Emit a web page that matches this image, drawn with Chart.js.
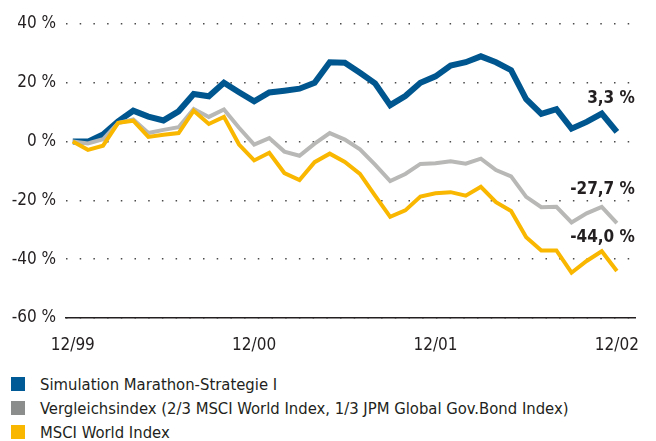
<!DOCTYPE html>
<html>
<head>
<meta charset="utf-8">
<script src="https://cdn.jsdelivr.net/npm/chart.js@4.4.1/dist/chart.umd.min.js"></script>
<style>
  html, body { margin: 0; padding: 0; background: #fff; }
  #wrap { position: relative; width: 656px; height: 441px; overflow: hidden; }
  #chart { position: absolute; left: 0; top: 0; }
  #legend { position: absolute; left: 11px; top: 375px; font-family: "DejaVu Sans Condensed", "Liberation Sans Narrow", sans-serif; font-size: 16.5px; color: #231f20; }
  .item { height: 24px; line-height: 20px; white-space: nowrap; }
  .box { display: inline-block; width: 14px; height: 14px; margin-right: 15px; vertical-align: -1px; }
</style>
</head>
<body>
<div id="wrap">
  <canvas id="chart" width="656" height="365"></canvas>
  <div id="legend"></div>
</div>
<script>
// Monatswerte 12/99 bis 12/02 (Wertentwicklung in %)
const months = ['12/99','01/00','02/00','03/00','04/00','05/00','06/00','07/00','08/00','09/00','10/00','11/00',
  '12/00','01/01','02/01','03/01','04/01','05/01','06/01','07/01','08/01','09/01','10/01','11/01',
  '12/01','01/02','02/02','03/02','04/02','05/02','06/02','07/02','08/02','09/02','10/02','11/02','12/02'];

const xTickIndex = [0, 12, 24, 36];
const xTickLabels = ['12/99', '12/00', '12/01', '12/02'];

const seriesNames = [
  'Simulation Marathon-Strategie I',
  'Vergleichsindex (2/3 MSCI World Index, 1/3 JPM Global Gov.Bond Index)',
  'MSCI World Index'
];

const marathon = [0, 0, 2.4, 6.9, 10.5, 8.5, 7.2, 10.3, 16.2, 15.4, 20, 16.8, 13.7, 16.7, 17.3, 18, 20,
  27, 26.8, 23.4, 19.8, 12.4, 15.5, 20, 22.2, 25.9, 27, 29, 27, 24.3, 14.4, 9.4, 11, 4.4, 6.7, 9.5, 3.3];

const vergleich = [0, -0.6, 0.8, 6.3, 7.5, 2.9, 4, 4.9, 11.1, 8.4, 10.9, 4.7, -1, 1.2, -3.4, -4.8, -0.7,
  2.9, 0.7, -2.6, -7.8, -13.4, -11, -7.6, -7.4, -6.7, -7.5, -5.8, -9.7, -11.8, -18.8, -22.3, -22.2, -27.5, -24.4, -22.2, -27.7];

const msciWorld = [0, -2.8, -1.4, 6.4, 7.1, 1.6, 2.3, 2.9, 10.5, 6, 8.4, -1, -6.4, -3.8, -10.7, -13.1, -7,
  -4.1, -6.9, -11, -18.4, -25.6, -23.4, -18.7, -17.6, -17.2, -18.4, -15.4, -20.6, -23.6, -32.5, -37, -37, -44.6, -40.6, -37.3, -44];

const endLabels = ['3,3 %', '-27,7 %', '-44,0 %'];

const lineColors = ['#00578f', '#b8b8b6', '#f9b700'];
const legendColors = ['#005a96', '#8b8d8d', '#f9b700'];
const lineWidths = [6, 4, 4];

const FONT = '"DejaVu Sans Condensed", "Liberation Sans Narrow", sans-serif';

function toPoints(arr) {
  return arr.map((v, i) => ({ x: i, y: v }));
}

// Endwerte rechts über dem letzten Punkt
const endLabelPlugin = {
  id: 'endLabels',
  afterDatasetsDraw(chart) {
    const ctx = chart.ctx;
    ctx.save();
    ctx.font = 'bold 17px ' + FONT;
    ctx.fillStyle = '#231f20';
    ctx.textAlign = 'right';
    ctx.textBaseline = 'middle';
    chart.data.datasets.forEach((ds, i) => {
      const meta = chart.getDatasetMeta(i);
      const last = meta.data[meta.data.length - 1];
      ctx.fillText(endLabels[i], last.x + 18, last.y - 33);
    });
    ctx.restore();
  }
};

const allSeries = [marathon, vergleich, msciWorld];

const chart = new Chart(document.getElementById('chart'), {
  type: 'line',
  data: {
    datasets: allSeries.map((s, i) => ({
      label: seriesNames[i],
      data: toPoints(s),
      borderColor: lineColors[i],
      backgroundColor: legendColors[i],
      borderWidth: lineWidths[i],
      pointRadius: 0,
      tension: 0,
      fill: false,
      borderJoinStyle: 'miter',
      order: 2 - i // gelb oben, blau unten
    }))
  },
  options: {
    responsive: false,
    animation: false,
    layout: { padding: { top: 24, right: 3, left: 0, bottom: 0 } },
    plugins: {
      legend: { display: false },
      tooltip: { enabled: false }
    },
    scales: {
      x: {
        type: 'linear',
        min: -0.45,
        max: 37.22,
        afterBuildTicks: (scale) => {
          scale.ticks = xTickIndex.map(v => ({ value: v }));
        },
        afterFit: (scale) => { scale.height = 47; },
        ticks: {
          autoSkip: false,
          maxRotation: 0,
          padding: 17,
          color: '#231f20',
          font: { family: FONT, size: 17 },
          callback: (v) => xTickLabels[xTickIndex.indexOf(v)]
        },
        grid: { display: false, drawTicks: false },
        border: { display: true, color: '#231f20', width: 1.5 }
      },
      y: {
        min: -60,
        max: 40,
        afterFit: (scale) => { scale.width = 66; },
        ticks: {
          stepSize: 20,
          padding: 10,
          color: '#231f20',
          font: { family: FONT, size: 17 },
          callback: (v) => v + ' %'
        },
        grid: {
          color: '#4a4a4a',
          lineWidth: 1.5,
          drawTicks: false
        },
        border: { display: false, dash: [1.5, 12.2] }
      }
    }
  },
  plugins: [endLabelPlugin]
});

// Legende unten links
const legend = document.getElementById('legend');
seriesNames.forEach((name, i) => {
  const row = document.createElement('div');
  row.className = 'item';
  row.innerHTML = '<span class="box" style="background:' + legendColors[i] + '"></span>' + name;
  legend.appendChild(row);
});
</script>
</body>
</html>
